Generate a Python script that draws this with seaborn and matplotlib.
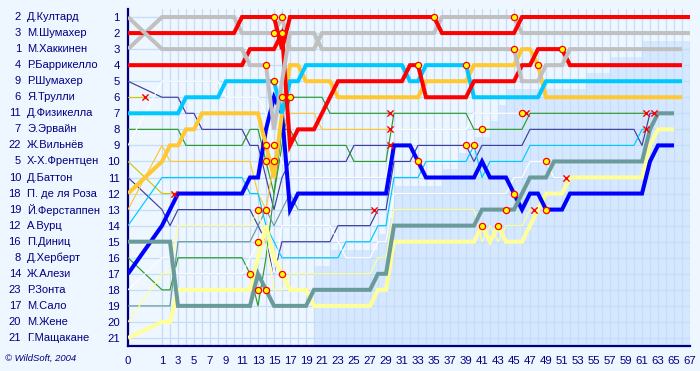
import numpy as np
import pandas as pd
import matplotlib
matplotlib.use("Agg")
import matplotlib.pyplot as plt
import matplotlib.transforms as mtransforms
import seaborn as sns

sns.set_theme(style="white")
plt.rcParams['font.family'] = ['Liberation Sans', 'DejaVu Sans']

NAVY = '#000080'

# ---- drivers in grid order ----
numbers = [2, 3, 1, 4, 9, 6, 11, 7, 22, 5, 10, 18, 19, 12, 16, 8, 14, 23, 17, 20, 21]
names = ["Д.Култард", "М.Шумахер", "М.Хаккинен", "Р.Баррикелло", "Р.Шумахер",
         "Я.Трулли", "Д.Физикелла", "Э.Эрвайн", "Ж.Вильнёв", "Х-Х.Френтцен",
         "Д.Баттон", "П. де ля Роза", "Й.Ферстаппен", "А.Вурц", "П.Диниц",
         "Д.Херберт", "Ж.Алези", "Р.Зонта", "М.Сало", "М.Жене", "Г.Мащакане"]
colors = ['#C0C0C0', '#FF0000', '#C0C0C0', '#FF0000', '#3F3F9F',
          '#D0C800', '#00C8FF', '#2E9A2E', '#FFFFFF', '#D0C800',
          '#3F3F9F', '#FFC832', '#FFC832', '#00C8FF', '#6A9A9A',
          '#2E9A2E', '#0000FF', '#FFFFFF', '#6A9A9A', '#FFFF99', '#FFFF99']
thick = [True, True, True, True, False, False, True, False, False, False,
         False, True, False, False, True, False, True, False, False, False, True]
retired = [not t for t in thick]

# ---- position after each lap (lap 0 = grid) ----
p_coulthard = [1, 3, 3, 3, 3, 3, 3, 3, 3, 3, 3, 3, 4, 4, 4, 8, 5, 2, 2, 2, 2,
               3, 3, 3, 3, 3, 3, 3, 3, 3, 3, 3, 3, 3, 3, 3, 3, 3, 3, 3, 3, 3, 3, 3, 3, 3,
               5, 5, 5, 4, 4, 4, 3, 3, 3, 3, 3, 3, 3, 3, 3, 3, 3, 3, 3, 3, 3]
p_mschumacher = [2, 2, 2, 2, 2, 2, 2, 2, 2, 2, 2, 1, 1, 1, 1, 1, 3,
                 1, 1, 1, 1, 1, 1, 1, 1, 1, 1, 1, 1, 1, 1, 1, 1, 1, 1, 1,
                 2, 2, 2, 2, 2, 2, 2, 2, 2, 2,
                 1, 1, 1, 1, 1, 1, 1, 1, 1, 1, 1, 1, 1, 1, 1, 1, 1, 1, 1, 1, 1, 1]
p_hakkinen = [3, 1, 1, 1, 1, 1, 1, 1, 1, 1, 1, 2, 2, 2, 2, 2, 1, 3, 3, 3, 3,
              2, 2, 2, 2, 2, 2, 2, 2, 2, 2, 2, 2, 2, 2, 2,
              1, 1, 1, 1, 1, 1, 1, 1, 1, 1,
              2, 2, 2, 2, 2, 2, 2, 2, 2, 2, 2, 2, 2, 2, 2, 2, 2, 2, 2, 2, 2, 2]
p_barrichello = [4, 4, 4, 4, 4, 4, 4, 4, 4, 4, 4, 4, 3, 3, 3, 3, 2, 9, 8, 8, 8, 7, 6,
                 5, 5, 5, 5, 5, 5, 5, 5, 5, 4, 4, 6, 6, 6, 6, 6, 6,
                 5, 5, 5, 5, 5, 5, 4, 4, 3, 3, 3, 3,
                 4, 4, 4, 4, 4, 4, 4, 4, 4, 4, 4, 4, 4, 4, 4]
p_rschumacher = [5, 6, 6, 6, 7, 7, 8, 8, 8, 8, 8, 8, 9, 9, 11, 13, 11,
                 10, 10, 10, 10, 10, 10, 10, 10, 9, 9, 9, 9, 9]
p_trulli = [6]
p_fisichella = [7, 7, 7, 7, 6, 6, 6, 6, 6, 5, 5, 5, 5, 5, 5, 5, 7, 5, 5,
                4, 4, 4, 4, 4, 4, 4, 4, 4, 4, 4, 4, 4, 5, 5, 4, 4, 4, 4, 4, 4,
                6, 6, 6, 6, 6, 6, 6, 6, 6,
                5, 5, 5, 5, 5, 5, 5, 5, 5, 5, 5, 5, 5, 5, 5, 5, 5, 5]
p_irvine = [8, 8, 8, 8, 9, 9, 9, 9, 9, 9, 9, 9, 8, 8, 10, 12, 9,
            6, 6, 6, 6, 6, 7, 7, 7, 7, 7, 7, 7, 7]
p_villeneuve = [9, 5, 5, 5, 5, 5, 5, 5, 5, 6, 6, 6, 6, 6, 7, 9, 10,
                11, 11, 11, 11, 11, 11, 11, 11, 11, 11, 11, 11, 11,
                8, 8, 8, 8, 8, 8, 8, 8, 8, 8, 7, 7, 7, 7, 7, 7, 7]
p_frentzen = [10, 12, 12]
p_button = [11, 13, 14, 13, 13, 13, 13, 13, 13, 13, 13, 13, 13, 14, 15, 17, 15, 15,
            15, 15, 15, 15, 15, 14, 14, 14, 14, 14, 13, 13,
            10, 10, 10, 9, 9, 9, 9, 9, 9, 9, 10, 9, 9, 9, 9, 9, 9,
            8, 8, 8, 8, 8, 8, 8, 8, 8, 8, 8, 8, 8, 8, 9, 7]
p_delarosa = [12, 10, 9, 9, 8, 8, 7, 7, 7, 7, 7, 7, 7, 7, 9, 11, 7, 4, 4,
              5, 5, 5, 5, 6, 6, 6, 6, 6, 6, 6, 6, 6, 6, 6, 5, 5, 5, 5, 5, 5,
              4, 4, 4, 4, 4, 4, 3, 3, 4,
              6, 6, 6, 6, 6, 6, 6, 6, 6, 6, 6, 6, 6, 6, 6, 6, 6, 6]
p_verstappen = [13, 9, 10, 10, 10, 10, 10, 10, 10, 10, 10, 10, 10, 12, 13, 10, 8,
                7, 7, 7, 7, 8, 8, 8, 8, 8, 8, 8, 8, 8]
p_wurz = [14, 11, 11, 11, 11, 11, 11, 11, 11, 11, 11, 11, 12, 12, 14, 15,
          16, 16, 16, 16, 16, 16, 16, 16, 15, 15, 15, 15, 14, 14,
          11, 11, 11, 11, 10, 10, 10, 10, 10, 10, 9, 11, 10, 10, 10, 10, 10,
          9, 9, 9, 9, 9, 9, 9, 9, 9, 9, 9, 9, 9, 9, 8]
p_diniz = [15, 15, 15, 19, 19, 19, 19, 19, 19, 19, 19, 19, 19, 17, 18,
           19, 19, 19, 19, 19, 18, 18, 18, 18, 18, 18, 18, 18, 17, 17,
           14, 14, 14, 14, 14, 14, 14, 14, 14, 14, 14, 13, 13, 13, 13, 13,
           12, 11, 11, 11, 10, 10, 10, 10, 10, 10, 10, 10, 10, 10, 10, 10, 8, 7, 7, 7]
p_herbert = [16, 18, 18, 16, 16, 16, 16, 16, 16, 16, 16, 16, 17, 19, 16, 12, 8, 8,
             9, 9, 9, 9, 9, 9, 9, 10, 10, 10, 10, 10,
             7, 7, 7, 7, 7, 7, 7, 7, 7, 7, 8, 8, 8, 8, 8, 8, 8,
             7, 7, 7, 7, 7, 7, 7, 7, 7, 7, 7, 7, 7, 7, 7]
p_alesi = [17, 14, 13, 12, 12, 12, 12, 12, 12, 12, 12, 12, 11, 11, 8, 6, 7, 13,
           12, 12, 12, 12, 12, 12, 12, 12, 12, 12, 12, 12,
           9, 9, 9, 10, 11, 11, 11, 11, 11, 11, 11, 10, 11, 11, 11, 12, 13,
           12, 12, 13, 13, 13, 12, 12, 12, 12, 12, 12, 12, 12, 12, 12, 10, 9, 9, 9]
p_zonta = [18, 16, 16, 17, 17, 17, 17, 17, 17, 17, 17, 17, 16, 15, 14, 17, 14, 14,
           14, 14, 14, 14, 14, 15, 16, 16, 16, 16, 15, 15,
           12, 12, 12, 12, 12, 12, 12, 12, 12, 12, 12, 12, 12, 12, 12,
           11, 11, 10, 10, 10, 11, 11]
p_salo = [19, 19, 19, 15, 15, 15, 15, 15, 15, 15, 15, 15, 15, 14, 13, 14, 13, 12,
          13, 13, 13, 13, 13, 13, 13, 13, 13, 13]
p_gene = [20, 17, 17, 14, 14, 14, 14, 14, 14, 14, 14, 14, 14, 13, 15, 18, 18,
          17, 17, 17, 17, 17, 17, 17, 17, 17, 17, 17, 16, 16,
          13, 13, 13, 13, 13, 13, 13, 13, 13, 13, 13, 15, 14, 15, 14, 14, 14, 13]
p_mazzacane = [21, 20, 20, 18, 18, 18, 18, 18, 18, 18, 18, 18, 18, 16, 14, 16, 17,
               18, 18, 18, 19, 19, 19, 19, 19, 19, 19, 19, 18, 18,
               15, 15, 15, 15, 15, 15, 15, 15, 15, 15, 15, 14, 15, 14, 15, 15, 15,
               14, 13, 12, 12, 12, 11, 11, 11, 11, 11, 11, 11, 11, 11, 11, 9, 8, 8, 8]

positions = [p_coulthard, p_mschumacher, p_hakkinen, p_barrichello, p_rschumacher,
             p_trulli, p_fisichella, p_irvine, p_villeneuve, p_frentzen,
             p_button, p_delarosa, p_verstappen, p_wurz, p_diniz,
             p_herbert, p_alesi, p_zonta, p_salo, p_gene, p_mazzacane]

# ---- pit stops (lap, position) ----
pit_laps = [12, 13, 14, 13, 13, 14, 14, 14, 15, 14, 15, 15, 15, 16, 15, 16, 16, 17, 16,
            33, 33, 35, 39, 39, 40, 41, 41, 43, 44, 45, 45, 45, 46, 48, 49, 49, 51]
pit_pos = [17, 13, 13, 15, 18, 18, 4, 9, 9, 10, 10, 5, 1, 1, 2, 2, 6, 6, 17,
           4, 10, 1, 4, 9, 9, 8, 14, 14, 13, 1, 3, 12, 7, 4, 10, 13, 3]

# ---- shaded area: cars on the leading lap ----
shade_laps = list(range(20, 68))
shade_count = [16, 16, 15, 15, 15, 15, 15, 15, 14, 13, 11, 11, 11, 11, 11, 11,
               10, 10, 9, 9, 8, 8, 7, 6, 5, 5, 5, 5, 5, 5, 5, 5, 5, 5, 4, 4, 4,
               3, 3, 3, 3, 2, 2, 2, 2, 2, 2, 2]

# ---- build long table ----
rows = []
for i, (nm, pos) in enumerate(zip(names, positions)):
    for lap, p in enumerate(pos):
        rows.append((nm, lap, p))
    if retired[i]:
        rows.append((nm, len(pos) - 1 + 0.5, pos[-1]))
df = pd.DataFrame(rows, columns=['driver', 'lap', 'pos'])
ret_df = pd.DataFrame([(len(p) - 1 + 0.5, p[-1]) for p, r in zip(positions, retired) if r],
                      columns=['lap', 'pos'])
pit_df = pd.DataFrame({'lap': pit_laps, 'pos': pit_pos})
palette = dict(zip(names, colors))

# ---- figure ----
fig = plt.figure(figsize=(7.0, 3.71), dpi=100)
fig.patch.set_facecolor('#EEF6FF')
ax = fig.add_axes([128 / 700, 1 - 346 / 371, 562 / 700, 337 / 371])
ax.set_facecolor('#EEF6FF')


def fwd(x):
    x = np.asarray(x, dtype=float)
    return np.where(x < 1, x * 4.25, x + 3.25)


def inv(y):
    y = np.asarray(y, dtype=float)
    return np.where(y < 4.25, y / 4.25, y - 3.25)


ax.set_xscale('function', functions=(fwd, inv))
ax.set_xlim(0, 67)
ax.set_ylim(21.5, 0.5)

# shading
ax.fill_between(shade_laps, np.array(shade_count) + 0.5, 21.5, step='post',
                color='#D6E8FF', lw=0, zorder=0)

# grid
for lap in range(1, 68):
    ax.axvline(lap, color='#C4DEF8', lw=0.9, zorder=1)
for p in range(1, 22):
    ax.axhline(p, color='#C4DEF8', lw=0.9, zorder=1)

thin_names = [n for n, t in zip(names, thick) if not t]
thick_names = [n for n, t in zip(names, thick) if t]
sns.lineplot(data=df[df.driver.isin(thin_names)], x='lap', y='pos', hue='driver',
             palette=palette, estimator=None, sort=False, lw=0.85, legend=False,
             ax=ax, zorder=3)
thick_order = thick_names[::-1]
sns.lineplot(data=df[df.driver.isin(thick_names)], x='lap', y='pos', hue='driver',
             hue_order=thick_order, palette=palette, estimator=None, sort=False,
             lw=2.9, legend=False, ax=ax, zorder=4)
for ln in ax.lines[-len(thick_names):]:
    ln.set_solid_joinstyle('miter')
    ln.set_solid_capstyle('butt')

sns.scatterplot(data=ret_df, x='lap', y='pos', marker='x', color='#FF0000', s=20,
                linewidth=1.0, ax=ax, zorder=6, legend=False)
sns.scatterplot(data=pit_df, x='lap', y='pos', marker='o', color='#FFFF00',
                edgecolor='#FF0000', s=20, linewidth=0.9, ax=ax, zorder=7, legend=False)

ax.set_xlabel('')
ax.set_ylabel('')
ax.set_xticks(list(range(0, 68)))
ax.set_xticklabels([str(l) if (l == 0 or l % 2 == 1) else '' for l in range(0, 68)])
ax.set_yticks(list(range(1, 22)))
ax.set_yticklabels([str(p) for p in range(1, 22)])
ax.tick_params(axis='both', colors=NAVY, labelcolor=NAVY, labelsize=8.2,
               length=4, width=1, direction='out', pad=2)
ax.tick_params(axis='x', pad=3)
for s in ['top', 'right']:
    ax.spines[s].set_visible(False)
for s in ['left', 'bottom']:
    ax.spines[s].set_color(NAVY)
    ax.spines[s].set_linewidth(1.6)
ax.grid(False)

# driver labels
trans = mtransforms.blended_transform_factory(fig.transFigure, ax.transData)
for i, (num, nm) in enumerate(zip(numbers, names)):
    ax.text(21 / 700, i + 1, str(num), transform=trans, ha='right', va='center',
            fontsize=8.0, color=NAVY, clip_on=False)
    ax.text(27 / 700, i + 1, nm, transform=trans, ha='left', va='center',
            fontsize=8.0, color=NAVY, clip_on=False)

fig.text(5 / 700, 1 - 358 / 371, '© WildSoft, 2004', ha='left', va='center',
         fontsize=6.8, style='italic', color=NAVY)

fig.savefig('out.png', dpi=100, facecolor=fig.get_facecolor())
